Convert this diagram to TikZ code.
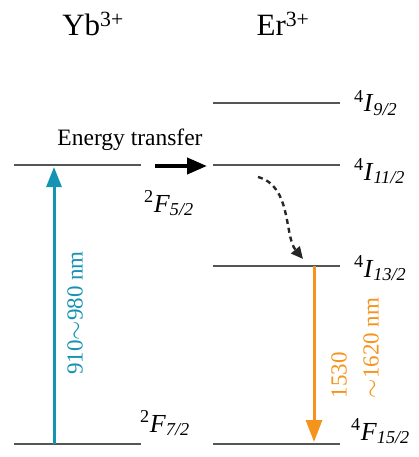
\documentclass[tikz,border=0pt]{standalone}
\usepackage{fontspec}
\setmainfont{Liberation Serif}
\usetikzlibrary{arrows.meta}
\definecolor{levelgray}{RGB}{85,85,85}
\definecolor{pumpblue}{RGB}{20,148,178}
\definecolor{emorange}{RGB}{245,148,28}
\tikzset{
  level/.style={draw=levelgray, line width=2.6pt},
  pumparrow/.style={draw=pumpblue, line width=3pt, -{Triangle[length=20pt,width=15pt]}},
  emarrow/.style={draw=emorange, line width=3pt, -{Triangle[length=22pt,width=16pt]}},
  etarrow/.style={draw=black, line width=4pt, -{Triangle[length=20pt,width=16pt]}},
  nrarrow/.style={draw=black!85, line width=2.4pt, dash pattern=on 5pt off 4pt, -{Triangle[length=12pt,width=11pt]}},
  ionlabel/.style={font=\fontsize{31}{34}\selectfont, inner sep=0pt},
  termlabel/.style={font=\fontsize{26}{30}\selectfont, inner sep=0pt, anchor=base west},
  etlabel/.style={font=\fontsize{23.5}{28}\selectfont, inner sep=0pt, anchor=base},
  wavelabel/.style={font=\fontsize{23}{32}\selectfont, inner sep=0pt, rotate=90}
}
\newcommand{\term}[3]{\textsuperscript{#1}\textit{#2}\textsubscript{\textit{#3}}}
\begin{document}
\begin{tikzpicture}[x=1pt,y=-1pt]
\useasboundingbox (0,0) rectangle (419,457);
% level end points
\coordinate (ybGL) at (14,444);  \coordinate (ybGR) at (141,444);
\coordinate (ybEL) at (14,165);  \coordinate (ybER) at (141,165);
\coordinate (erAL) at (213,103); \coordinate (erAR) at (340,103);
\coordinate (erBL) at (213,165); \coordinate (erBR) at (340,165);
\coordinate (erCL) at (213,266); \coordinate (erCR) at (340,266);
\coordinate (erDL) at (213,444); \coordinate (erDR) at (340,444);
% levels
\draw[level] (ybGL) -- (ybGR);
\draw[level] (ybEL) -- (ybER);
\draw[level] (erAL) -- (erAR);
\draw[level] (erBL) -- (erBR);
\draw[level] (erCL) -- (erCR);
\draw[level] (erDL) -- (erDR);
% arrow end points
\coordinate (pumpS) at (54,444); \coordinate (pumpE) at (54,167);
\coordinate (emS) at (314,266);  \coordinate (emE) at (314,442);
\coordinate (etS) at (155,166);  \coordinate (etE) at (207,166);
\coordinate (nrS) at (258,177);  \coordinate (nrE) at (303,259);
\coordinate (nrC1) at (292,186); \coordinate (nrC2) at (284,236);
% arrows
\draw[pumparrow] (pumpS) -- (pumpE);
\draw[emarrow] (emS) -- (emE);
\draw[etarrow] (etS) -- (etE);
\draw[nrarrow] (nrS) .. controls (nrC1) and (nrC2) .. (nrE);
% labels
\node[ionlabel, anchor=base] (yb) at (93,36) {Yb\textsuperscript{3+}};
\node[ionlabel, anchor=base] (er) at (283,36) {Er\textsuperscript{3+}};
\node[etlabel] (et) at (130,146) {Energy transfer};
\node[termlabel] (f52) at (144,212) {\term{2}{F}{5/2}};
\node[termlabel] (f72) at (140,432) {\term{2}{F}{7/2}};
\node[termlabel] (i92) at (354,112) {\term{4}{I}{9/2}};
\node[termlabel] (i112) at (354,180) {\term{4}{I}{11/2}};
\node[termlabel] (i132) at (354,277) {\term{4}{I}{13/2}};
\node[termlabel] (f152) at (351,440) {\term{4}{F}{15/2}};
\node[wavelabel, text=pumpblue] (pumpl) at (75,313) {910$\sim$980 nm};
\node[wavelabel, text=emorange, align=left] (eml) at (355,348) {1530\\$\sim$1620 nm};
\end{tikzpicture}
\end{document}
